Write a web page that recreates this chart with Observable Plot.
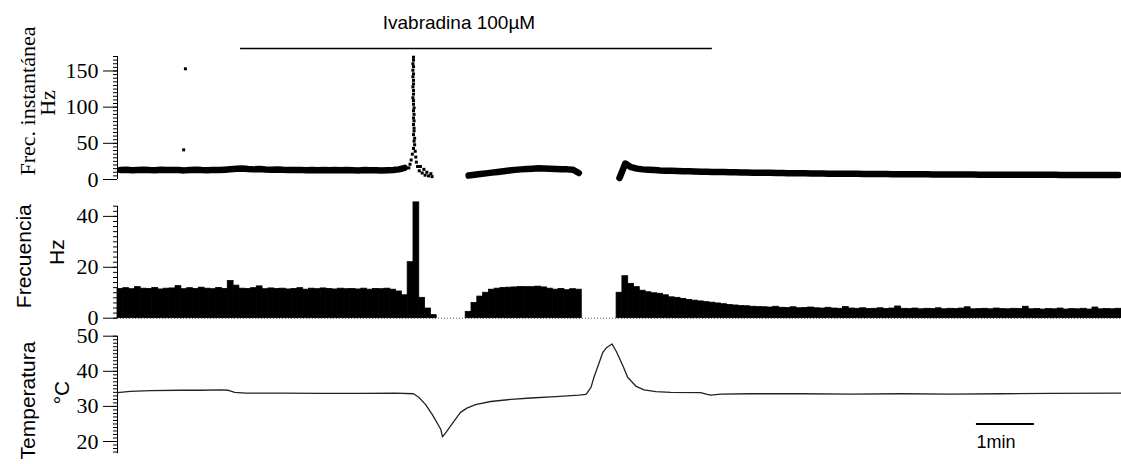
<!DOCTYPE html>
<html><head><meta charset="utf-8">
<script src="https://cdn.jsdelivr.net/npm/d3@7"></script>
<script src="https://cdn.jsdelivr.net/npm/@observablehq/plot@0.6"></script>
<style>
html,body{margin:0;padding:0;background:#fff;}
#chart{position:relative;width:1121px;height:464px;overflow:hidden;background:#fff;}
#chart svg{position:absolute;left:0;overflow:visible;}
</style></head><body><div id="chart"></div>
<script>
// ---- data (time in minutes, 0.1-min bins) ----
const binWidth = 0.1;
const xDomain = [0, 17.3];

// Frecuencia (Hz), binned
const frecuencia = [
 11.5,11.8,11.4,12.2,11.6,11.5,11.9,11.3,11.6,11.7,
 12.6,11.4,11.8,11.5,12.0,11.6,11.4,11.9,11.5,14.6,
 12.8,11.6,11.5,11.8,12.5,11.4,11.7,11.5,11.6,11.3,
 11.5,11.8,11.2,11.6,11.4,11.7,11.5,11.3,11.6,11.4,
 11.5,11.3,11.6,11.2,11.5,11.4,11.6,11.2,10.5,9.0,
 22.0,45.5,8.0,3.8,1.2,0,0,0,0,0,
 2.5,6.0,8.5,10.0,11.2,11.6,11.9,12.0,12.1,12.3,
 12.2,12.2,12.4,12.1,11.6,11.2,11.5,11.0,11.4,11.2,
 0,0,0,0,0,0,10.0,16.5,13.5,12.2,
 10.8,10.2,9.8,9.6,9.0,8.2,8.0,7.6,7.2,6.9,
 6.6,6.3,6.1,5.8,5.5,5.2,5.0,4.8,4.7,4.5,
 4.4,4.3,4.2,4.5,4.1,4.0,4.3,3.9,4.0,4.2,
 3.9,3.8,4.1,3.8,3.7,4.4,3.8,3.7,3.9,3.6,
 3.7,3.9,3.6,3.8,4.6,3.7,3.6,3.8,3.5,3.7,
 3.6,3.9,3.5,3.7,3.6,3.8,4.3,3.5,3.6,3.7,
 3.5,3.8,3.6,3.5,3.7,3.6,4.5,3.5,3.6,3.4,
 3.6,3.5,3.8,3.4,3.6,3.5,3.7,3.4,4.2,3.5,
 3.6,3.5,3.7
];

// Frec. instantánea (Hz), band centre per bin (null = no spikes)
const frecInst = [
 13.0,13.5,12.8,13.2,13.6,13.0,12.9,13.4,13.1,13.3,
 13.0,12.6,13.2,13.5,13.0,12.8,13.3,13.1,13.6,14.2,
 14.8,15.2,14.5,14.0,14.6,13.8,13.5,13.9,13.4,13.2,
 13.0,13.3,12.8,13.1,12.9,13.2,12.7,13.0,12.8,13.1,
 12.9,12.6,13.0,12.7,12.9,12.5,12.8,13.2,14.0,16.0,
 null,null,null,null,null,null,null,null,null,null,
 5.5,6.5,7.5,8.5,9.5,10.5,11.5,12.5,13.3,14.0,
 14.5,15.0,15.5,15.2,15.0,14.6,14.3,14.0,13.5,9.0,
 null,null,null,null,null,null,2.0,22.0,17.0,15.0,
 14.0,13.5,13.0,12.5,12.2,12.0,11.8,11.5,11.3,11.0,
 10.8,10.6,10.5,10.3,10.2,10.0,9.9,9.8,9.6,9.5,
 9.4,9.3,9.2,9.0,8.9,8.8,8.7,8.6,8.5,8.4,
 8.3,8.2,8.1,8.0,8.0,7.9,7.8,7.8,7.7,7.6,
 7.6,7.5,7.5,7.4,7.3,7.3,7.2,7.2,7.1,7.1,
 7.0,7.0,6.9,6.9,6.9,6.8,6.8,6.8,6.7,6.7,
 6.7,6.6,6.6,6.6,6.5,6.5,6.5,6.5,6.4,6.4,
 6.4,6.4,6.3,6.3,6.3,6.3,6.2,6.2,6.2,6.2,
 6.2,6.1,6.1
];

// individual instantaneous-frequency points (spike column, scatter, outliers)
const dotT  = [5.10,5.10,5.09,5.10,5.09,5.10,5.09,5.10,5.10,5.09,
               5.10,5.10,5.09,5.10,5.10,5.11,5.10,5.11,5.10,5.11,
               5.10,5.11,5.11,5.10,5.12,5.11,5.12,5.10,5.13,5.08,
               5.14,5.06,5.15,5.04,5.17,5.02,
               5.20,5.22,5.25,5.28,5.30,5.33,5.36,5.40,5.42,
               1.17,1.14];
const dotHz = [169,165,160,156,151,146,142,137,132,128,
               123,118,113,109,104,99,95,90,85,81,
               76,71,67,62,57,53,48,43,39,35,
               31,27,24,21,18,16,
               12,18,9,14,6,10,5,8,4,
               153,41];

// Temperatura (°C)
const tempT = [0,0.22,0.57,1.09,1.43,1.78,1.91,2.02,2.21,2.81,3.5,4.19,4.79,5.10,5.19,5.31,5.43,5.57,5.60,5.67,5.79,5.91,6.02,6.17,6.43,6.78,7.12,7.55,7.95,8.07,8.10,8.16,8.21,8.29,8.36,8.43,8.52,8.60,8.71,8.79,8.93,9.07,9.28,9.53,10.05,10.16,10.22,10.40,10.91,11.78,12.64,13.5,14.36,15.22,16.09,17.31];
const tempC = [33.9,34.3,34.5,34.6,34.6,34.7,34.6,34.0,33.8,33.8,33.7,33.7,33.8,33.6,32.6,30.5,27.5,23.5,21.3,22.8,25.6,28.3,29.5,30.5,31.4,32.0,32.4,32.8,33.2,33.4,34.0,35.5,38.3,42.0,45.3,46.8,47.8,45.5,41.5,38.3,35.8,34.7,34.2,34.0,33.9,33.4,33.2,33.5,33.6,33.6,33.5,33.6,33.5,33.6,33.7,33.8];

const ticksInst = [0, 50, 100, 150];
const ticksFreq = [0, 20, 40];
const ticksTemp = [20, 30, 40, 50];

const ivabradina = [2.12, 10.25];
const ivabradinaLabel = "Ivabradina 100µM";
const scaleBar = [14.8, 15.8];
const scaleBarLabel = "1min";

// ---- tables ----
const freqRows = frecuencia.map((hz, i) => ({t0: i * binWidth, t1: (i + 1) * binWidth, hz}));
const instRows = frecInst.map((hz, i) => ({t: i * binWidth + binWidth / 2, hz}));
const dotRows = dotT.map((t, i) => ({t, hz: dotHz[i]}));
const tempRows = tempT.map((t, i) => ({t, c: tempC[i]}));

const serif = "'Liberation Serif','Times New Roman',serif";
const sans = "'Liberation Sans',Arial,sans-serif";

const common = {
  width: 1121, marginLeft: 117, marginRight: 0,
  x: {domain: xDomain, axis: null},
  style: {background: "transparent", overflow: "visible"}
};

function axes(major, minor) {
  return [
    Plot.axisY(minor, {tickSize: 4, tickFormat: () => "", label: null, strokeWidth: 1}),
    Plot.axisY(major, {tickSize: 14, tickPadding: 5, fontSize: 22, fontFamily: serif, label: null, strokeWidth: 1, color: "#000"}),
    Plot.ruleX([0], {stroke: "#000", strokeWidth: 1})
  ];
}

function ylabel(text, dx, dy, size, family) {
  return Plot.text([text], {frameAnchor: "left", textAnchor: "middle", lineAnchor: "middle", rotate: -90, dx, dy, fontSize: size, fontFamily: family, fill: "#000"});
}

const chart = document.getElementById("chart");

// Panel 1: Frec. instantánea
const p1 = Plot.plot({
  ...common, height: 190, marginTop: 56, marginBottom: 11,
  y: {domain: [0, 170], axis: null},
  marks: [
    ...axes(ticksInst, d3.range(0, 171, 5)),
    Plot.line(instRows, {x: "t", y: "hz", stroke: "#000", strokeWidth: 6.5, strokeLinejoin: "round"}),
    Plot.dot(dotRows, {x: "t", y: "hz", symbol: "square", r: 1.7, fill: "#000", stroke: null}),
    Plot.ruleY([{y: 170, x1: ivabradina[0], x2: ivabradina[1]}], {y: "y", x1: "x1", x2: "x2", dy: -8, stroke: "#000", strokeWidth: 1.6}),
    Plot.text([ivabradinaLabel], {x: 4.57, y: 170, dy: -34, textAnchor: "start", fontSize: 19, fontFamily: sans, fill: "#000"}),
    ylabel("Frec. instantánea", -90, -17, 22, serif),
    ylabel("Hz", -70, -15, 22, serif)
  ]
});
p1.style.top = "0px";
chart.appendChild(p1);

// Panel 2: Frecuencia
const p2 = Plot.plot({
  ...common, height: 130, marginTop: 15.7, marginBottom: 2.3,
  y: {domain: [0, 44], axis: null},
  marks: [
    ...axes(ticksFreq, d3.range(0, 45, 2)),
    Plot.ruleY([0], {stroke: "#555", strokeDasharray: "1,2", strokeWidth: 1}),
    Plot.rectY(freqRows, {x1: "t0", x2: "t1", y: "hz", inset: 0, insetLeft: 0, insetRight: 0, fill: "#000", stroke: "#000", strokeWidth: 0.8}),
    ylabel("Frecuencia", -93, -6, 21, sans),
    ylabel("Hz", -60, -10, 21, sans)
  ]
});
p2.style.top = "190px";
chart.appendChild(p2);

// Panel 3: Temperatura
const p3 = Plot.plot({
  ...common, height: 144, marginTop: 15.7, marginBottom: 10.7,
  y: {domain: [16.5, 50], axis: null},
  marks: [
    ...axes(ticksTemp, d3.range(17, 51, 1)),
    Plot.line(tempRows, {x: "t", y: "c", stroke: "#222", strokeWidth: 1.3}),
    Plot.ruleY([{y: 25, x1: scaleBar[0], x2: scaleBar[1]}], {y: "y", x1: "x1", x2: "x2", stroke: "#000", strokeWidth: 2}),
    Plot.text([scaleBarLabel], {x: scaleBar[0], y: 19.8, textAnchor: "start", fontSize: 18, fontFamily: sans, fill: "#000"}),
    ylabel("Temperatura", -89, 5.5, 21, sans),
    ylabel("°C", -55, -2.5, 21, sans)
  ]
});
p3.style.top = "320px";
chart.appendChild(p3);
</script></body></html>
